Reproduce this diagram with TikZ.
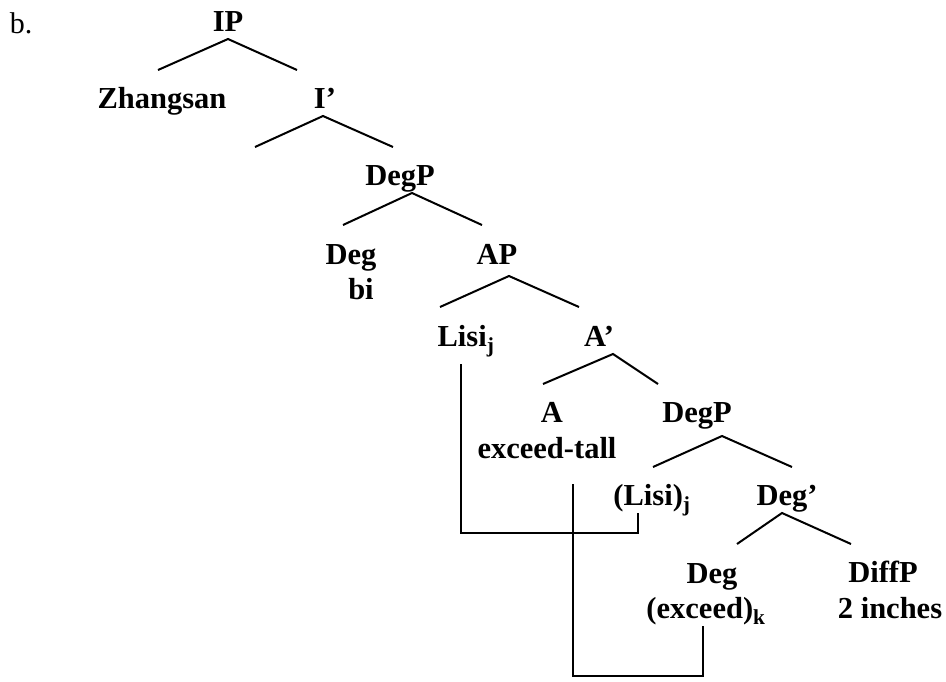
\documentclass[tikz,border=0pt]{standalone}
\usepackage{fontspec}
\setmainfont{Liberation Serif}
\tikzset{tree node/.style={font=\bfseries\fontsize{30.5pt}{36pt}\selectfont,
   anchor=base, inner sep=0pt, outer ysep=8pt, text depth=0pt},
 label node/.style={tree node, font=\fontsize{30pt}{35pt}\selectfont},
 branch/.style={draw, line width=2pt},
 trace/.style={draw, line width=2.2pt},
 }

\begin{document}
\begin{tikzpicture}[x=1pt,y=-1pt]
        \useasboundingbox (0,0) rectangle (946,681);
        \node[label node] (ex) at (21,33) {b.};
        % tree labels
        \node[tree node] (ip) at (228,31) {IP};
        \node[tree node] (zhangsan) at (162,108) {Zhangsan};
        \node[tree node] (ibar) at (325,108) {I'};
        \node[tree node] (degp) at (400,185) {DegP};
        \node[tree node] (deg) at (351,264) {Deg};
        \node[tree node] (bi) at (361,299) {bi};
        \node[tree node] (ap) at (497,264) {AP};
        \node[tree node] (lisi) at (466,346) {Lisi\textsubscript{j}};
        \node[tree node] (abar) at (599,346) {A'};
        \node[tree node] (a) at (552,422) {A};
        \node[tree node] (exceedtall) at (547,458) {exceed-tall};
        \node[tree node] (degp2) at (697,422) {DegP};
        \node[tree node] (lisi2) at (652,505) {(Lisi)\textsubscript{j}};
        \node[tree node] (degbar) at (787,505) {Deg'};
        \node[tree node] (deg2) at (712,583) {Deg};
        \node[tree node] (exceed) at (706,618) {(exceed)\textsubscript{k}};
        \node[tree node] (diffp) at (883,582) {DiffP};
        \node[tree node] (inches) at (890,618) {2 inches};
        % branch ends
        \coordinate (ip-l) at (158,70);
        \coordinate (ip-r) at (297,70);
        \coordinate (ibar-l) at (255,147);
        \coordinate (ibar-r) at (393,147);
        \coordinate (degp-l) at (343,225);
        \coordinate (degp-r) at (482,225);
        \coordinate (ap-l) at (440,307);
        \coordinate (ap-r) at (579,307);
        \coordinate (abar-l) at (543,384);
        \coordinate (abar-r) at (658,384);
        \coordinate (degp2-l) at (653,467);
        \coordinate (degp2-r) at (792,467);
        \coordinate (degbar-l) at (737,544);
        \coordinate (degbar-r) at (851,544);
        \coordinate (j-foot) at (638,533);
        \coordinate (k-foot) at (703,676);
        % branches
        \draw[branch] (ip-l) -- (ip.south) -- (ip-r);
        \draw[branch] (ibar-l) -- ([xshift=-2pt]ibar.south) -- (ibar-r);
        \draw[branch] (degp-l) -- ([xshift=12pt]degp.south) -- (degp-r);
        \draw[branch] (ap-l) -- ([xshift=12pt,yshift=-4pt]ap.south) -- (ap-r);
        \draw[branch] (abar-l) -- ([xshift=14pt]abar.south) -- (abar-r);
        \draw[branch] (degp2-l) -- ([xshift=25pt,yshift=-6pt]degp2.south) -- (degp2-r);
        \draw[branch] (degbar-l) -- ([xshift=-5pt]degbar.south) -- (degbar-r);
        % movement lines
        \draw[trace] ([xshift=-5pt,yshift=-10pt]lisi.south) |- (j-foot) -- ([xshift=-14pt]lisi2.south);
        \draw[trace] ([xshift=26pt,yshift=-18pt]exceedtall.south) |- (k-foot) -- ([xshift=-3pt]exceed.south);
    \end{tikzpicture}
\end{document}
